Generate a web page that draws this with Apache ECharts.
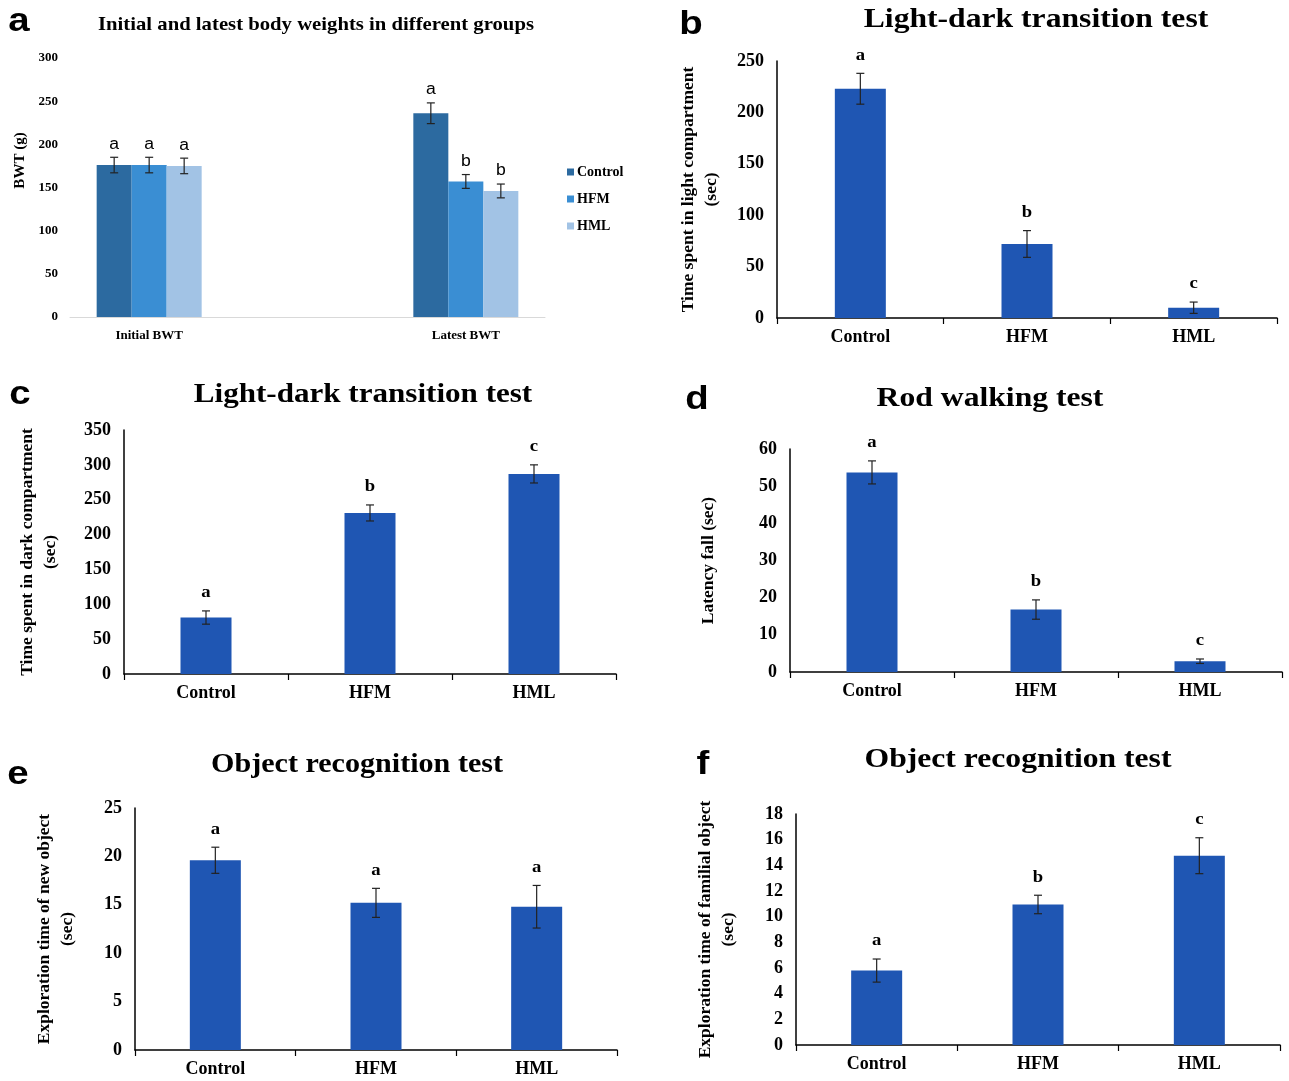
<!DOCTYPE html>
<html><head><meta charset="utf-8">
<script src="https://cdn.jsdelivr.net/npm/echarts@6/dist/echarts.min.js"></script>
<style>html,body{margin:0;padding:0;background:#fff}#c{width:1289px;height:1081px}</style>
</head><body><div id="c"></div>
<script>
// ---- Panel a: body weights ----
const bwtCategories = ['Initial BWT', '', 'Latest BWT'];
const bwtGroups = ['Control', 'HFM', 'HML'];
const bwtControl = [176, null, 236];
const bwtHFM = [176, null, 157];
const bwtHML = [175, null, 146];
const bwtControlErr = [9, null, 12];
const bwtHFMErr = [9, null, 8];
const bwtHMLErr = [9, null, 8];
const bwtControlSig = ['a', null, 'a'];
const bwtHFMSig = ['a', null, 'b'];
const bwtHMLSig = ['a', null, 'b'];

// ---- Panels b-f ----
const testGroups = ['Control', 'HFM', 'HML'];
const lightTime = [223, 72, 10];
const lightErr = [15, 13, 5.5];
const lightSig = ['a', 'b', 'c'];
const darkTime = [81, 231, 287];
const darkErr = [9.5, 11.5, 13];
const darkSig = ['a', 'b', 'c'];
const latencyFall = [53.7, 16.8, 2.9];
const latencyErr = [3.1, 2.6, 0.6];
const latencySig = ['a', 'b', 'c'];
const newObject = [19.6, 15.2, 14.8];
const newObjectErr = [1.35, 1.5, 2.2];
const newObjectSig = ['a', 'a', 'a'];
const familiarObject = [5.8, 10.95, 14.75];
const familiarObjectErr = [0.9, 0.72, 1.4];
const familiarObjectSig = ['a', 'b', 'c'];

const SERIF = '"Liberation Serif","Times New Roman",serif';
const SANS = '"Liberation Sans",Arial,sans-serif';
const BAR = '#1f56b3';

function errItems(vals, errs) {
  const out = [];
  vals.forEach((v, i) => { if (v != null) out.push([i, v, errs[i]]); });
  return out;
}
function errRender(offset, sigs, sigFont, sigGap) {
  return function (params, api) {
    const i = api.value(0), v = api.value(1), e = api.value(2);
    const pT = api.coord([i, v + e]);
    const pB = api.coord([i, v - e]);
    const cx = pT[0] + offset;
    const cap = 4;
    const st = { stroke: '#222', lineWidth: 1.2 };
    return { type: 'group', children: [
      { type: 'line', shape: { x1: cx, y1: pT[1], x2: cx, y2: pB[1] }, style: st },
      { type: 'line', shape: { x1: cx - cap, y1: pT[1], x2: cx + cap, y2: pT[1] }, style: st },
      { type: 'line', shape: { x1: cx - cap, y1: pB[1], x2: cx + cap, y2: pB[1] }, style: st },
      { type: 'text', x: cx, y: pT[1] - sigGap, scaleX: 1.1, style: { text: sigs[i], font: sigFont, fill: '#000', align: 'center', verticalAlign: 'middle' } }
    ] };
  };
}

const grids = [
  { left: 70, top: 58, width: 475, height: 259 },
  { left: 777, top: 61, width: 500, height: 257 },
  { left: 124, top: 430, width: 492, height: 244 },
  { left: 790, top: 449, width: 492, height: 223 },
  { left: 135, top: 808, width: 482, height: 242 },
  { left: 796, top: 814, width: 484, height: 231 }
];

const xAxes = [{
  type: 'category', gridIndex: 0, data: bwtCategories,
  axisLine: { lineStyle: { color: '#d9d9d9', width: 1 } }, axisTick: { show: false },
  axisLabel: { color: '#000', fontFamily: SERIF, fontWeight: 'bold', fontSize: 13, margin: 12, interval: 0 }
}];
const yAxes = [{
  type: 'value', gridIndex: 0, min: 0, max: 300, interval: 50,
  name: 'BWT (g)', nameLocation: 'middle', nameGap: 42,
  nameTextStyle: { color: '#000', fontFamily: SERIF, fontWeight: 'bold', fontSize: 15, padding: [0, 0, 0, 54] },
  axisLine: { show: false }, axisTick: { show: false }, splitLine: { show: false },
  axisLabel: { color: '#000', fontFamily: SERIF, fontWeight: 'bold', fontSize: 13, margin: 12 }
}];

const series = [];
const bwtVals = [bwtControl, bwtHFM, bwtHML];
const bwtErrs = [bwtControlErr, bwtHFMErr, bwtHMLErr];
const bwtSigs = [bwtControlSig, bwtHFMSig, bwtHMLSig];
const bwtColors = ['#2c6aa0', '#3a8ed3', '#a2c3e5'];
bwtGroups.forEach((g, k) => {
  series.push({ name: g, type: 'bar', xAxisIndex: 0, yAxisIndex: 0, data: bwtVals[k], barWidth: 35, barGap: '0%', itemStyle: { color: bwtColors[k] } });
});
bwtGroups.forEach((g, k) => {
  series.push({ type: 'custom', xAxisIndex: 0, yAxisIndex: 0, z: 5, silent: true,
    renderItem: errRender((k - 1) * 35, bwtSigs[k], '16px ' + SANS, 13),
    data: errItems(bwtVals[k], bwtErrs[k]) });
});

const panels = [
  { vals: lightTime, errs: lightErr, sigs: lightSig, max: 250, step: 50, name: 'Time spent in light compartment\n(sec)', gap: 54 },
  { vals: darkTime, errs: darkErr, sigs: darkSig, max: 350, step: 50, name: 'Time spent in dark compartment\n(sec)', gap: 62 },
  { vals: latencyFall, errs: latencyErr, sigs: latencySig, max: 60, step: 10, name: 'Latency fall (sec)', gap: 70 },
  { vals: newObject, errs: newObjectErr, sigs: newObjectSig, max: 25, step: 5, name: 'Exploration time of new object\n(sec)', gap: 56 },
  { vals: familiarObject, errs: familiarObjectErr, sigs: familiarObjectSig, max: 18, step: 2, name: 'Exploration time of familial object\n(sec)', gap: 56 }
];
panels.forEach((p, j) => {
  const gi = j + 1;
  xAxes.push({ type: 'category', gridIndex: gi, data: testGroups,
    axisLine: { lineStyle: { color: '#000', width: 1.5 } },
    axisTick: { show: true, length: 6, lineStyle: { color: '#000', width: 1.2 } },
    axisLabel: { color: '#000', fontFamily: SERIF, fontWeight: 'bold', fontSize: 18, margin: 10 } });
  yAxes.push({ type: 'value', gridIndex: gi, min: 0, max: p.max, interval: p.step,
    name: p.name, nameLocation: 'middle', nameGap: p.gap,
    nameTextStyle: { color: '#000', fontFamily: SERIF, fontWeight: 'bold', fontSize: 17.5, lineHeight: 23 },
    axisLine: { show: true, lineStyle: { color: '#000', width: 1.5 } }, axisTick: { show: false }, splitLine: { show: false },
    axisLabel: { color: '#000', fontFamily: SERIF, fontWeight: 'bold', fontSize: 18, margin: 13 } });
  series.push({ type: 'bar', xAxisIndex: gi, yAxisIndex: gi, data: p.vals, barWidth: 51, itemStyle: { color: BAR } });
  series.push({ type: 'custom', xAxisIndex: gi, yAxisIndex: gi, z: 5, silent: true,
    renderItem: errRender(0, p.sigs, 'bold 17px ' + SERIF, 18),
    data: errItems(p.vals, p.errs) });
});

function label(text, x, y, font, sx) {
  return { type: 'text', x: x, y: y, scaleX: sx || 1.13, style: { text: text, font: font, fill: '#000', align: 'center', verticalAlign: 'middle' } };
}
const graphics = [
  label('a', 19, 22, 'bold 34px ' + SANS),
  label('b', 691, 25, 'bold 34px ' + SANS),
  label('c', 20, 395, 'bold 34px ' + SANS),
  label('d', 697, 400, 'bold 34px ' + SANS),
  label('e', 18, 775, 'bold 34px ' + SANS),
  label('f', 703, 765, 'bold 34px ' + SANS),
  label('Initial and latest body weights in different groups', 316, 25, 'bold 19px ' + SERIF, 1.09),
  label('Light-dark transition test', 1036, 20, 'bold 28px ' + SERIF),
  label('Light-dark transition test', 363, 395, 'bold 28px ' + SERIF, 1.11),
  label('Rod walking test', 990, 399, 'bold 28px ' + SERIF),
  label('Object recognition test', 357, 765, 'bold 28px ' + SERIF, 1.075),
  label('Object recognition test', 1018, 760, 'bold 28px ' + SERIF)
];

const chart = echarts.init(document.getElementById('c'));
chart.setOption({
  backgroundColor: '#fff',
  animation: false,
  grid: grids,
  xAxis: xAxes,
  yAxis: yAxes,
  legend: { data: bwtGroups, orient: 'vertical', left: 562, top: 160, itemWidth: 7, itemHeight: 7, itemGap: 13, icon: 'rect',
    textStyle: { color: '#000', fontFamily: SERIF, fontWeight: 'bold', fontSize: 14, padding: [0, 0, 0, -2] } },
  graphic: graphics,
  series: series
});
</script></body></html>
